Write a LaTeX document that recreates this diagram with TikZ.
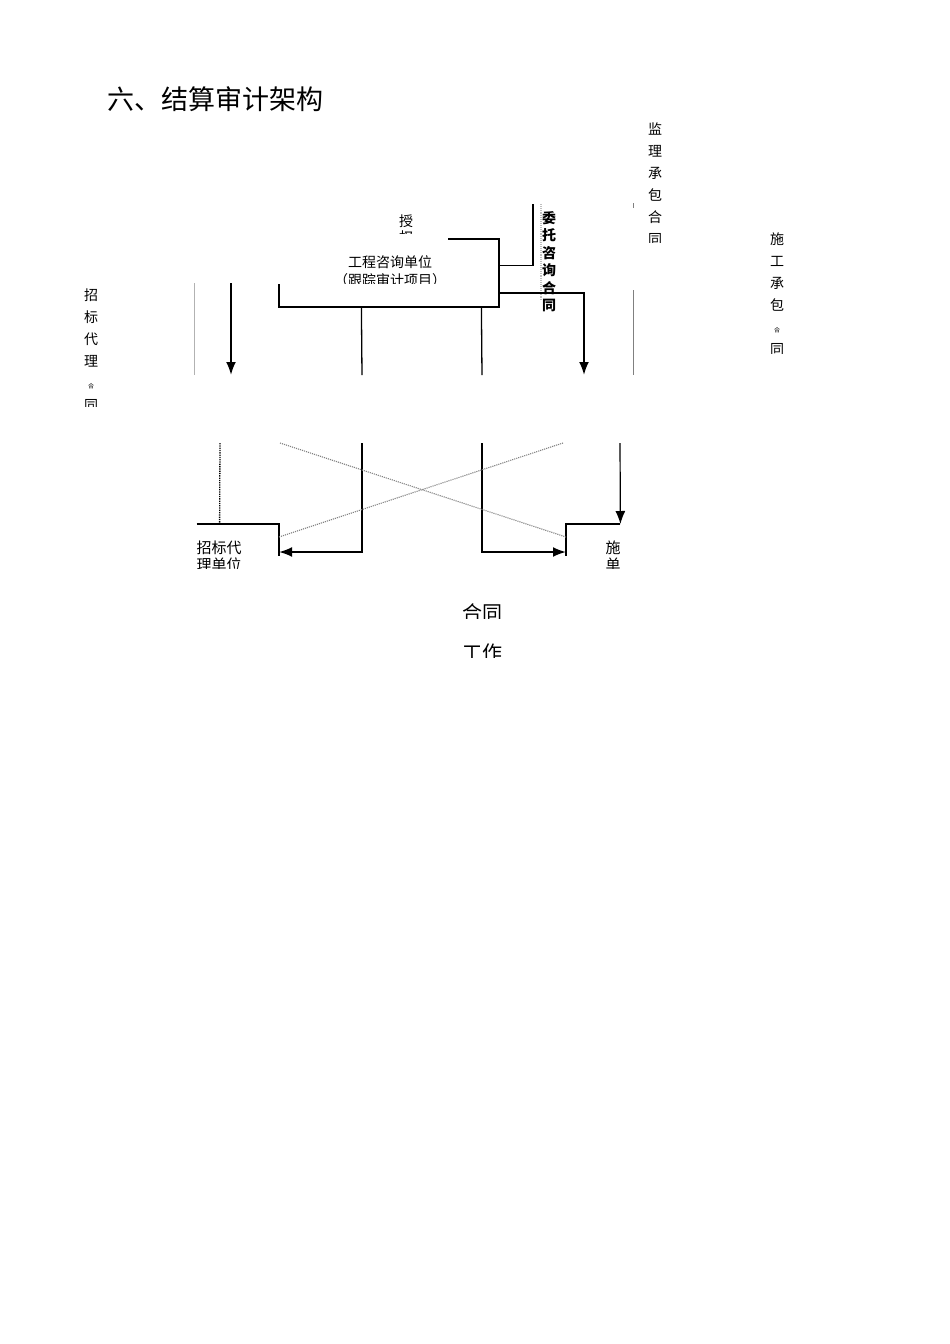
\documentclass[tikz,border=0pt]{standalone}
\usepackage{fontspec}
\setmainfont{Noto Sans CJK SC}
\usepackage{tikz}
\usetikzlibrary{arrows.meta,calc}

\tikzset{
  box/.style={draw, line width=1.2pt, inner sep=0pt},
  line/.style={line width=1.3pt},
  arrow/.style={line width=2pt, -{Latex[length=13pt,width=10pt]}},
  faint/.style={gray!60, line width=1pt},
  dotline/.style={gray, line width=1.1pt, densely dotted},
  vlabel/.style={align=center, inner sep=0pt, anchor=north, font=\fontsize{14}{22}\selectfont},
}

\begin{document}
\begin{tikzpicture}[x=1pt,y=-1pt]
\useasboundingbox (0,0) rectangle (950,1344);

\node[anchor=west, inner sep=0pt, font=\fontsize{27}{27}\selectfont] (title) at (107,99) {六、结算审计架构};

% consulting unit
\node[box, minimum width=220pt, minimum height=68pt] (zixun) at (389,273) {};
\fill[white] (276,231) rectangle (448,283.5);
\begin{scope}
\clip (276,231) rectangle (448,283.5);
\node[align=center, font=\fontsize{14}{18}\selectfont] (zixuntxt) at (390,271) {工程咨询单位\\（跟踪审计项目）};
\end{scope}
\begin{scope}
\clip (392,205) rectangle (420,233);
\node[vlabel, font=\fontsize{14}{16}\selectfont] (shouquan) at (406,215) {授\\权};
\end{scope}

% side labels
\node[vlabel] (jianli) at (655,123) {监\\理\\承\\包\\合\\同};
\fill[white] (640,243) rectangle (670,260);
\node[vlabel] (shigonghe) at (777,233) {施\\工\\承\\包\\{\fontsize{6}{22}\selectfont 合}\\同};
\fill[white] (760,354) rectangle (795,370);
\node[vlabel] (zhaobiaohe) at (91,289) {招\\标\\代\\理\\{\fontsize{6}{22}\selectfont 合}\\同};
\fill[white] (75,407) rectangle (110,425);
\node[vlabel, font=\bfseries\fontsize{14}{17.5}\selectfont] (weituo) at (549,211) {委\\托\\咨\\询\\合\\同};
\draw[dotline, gray!50] (541,204) -- (541,300);

% free ends at the cut
\coordinate (wtTop) at (533,204);
\coordinate (sgCut) at (584,375);
\coordinate (zbTop) at (231,283);
\coordinate (zbCut) at (231,375);
\coordinate (midL) at (362,375);
\coordinate (midR) at (482,375);
\coordinate (midL2) at (362,443);
\coordinate (midR2) at (482,443);
\coordinate (crossL) at (280,443);
\coordinate (crossR) at (563,443);
\coordinate (dotTop) at (220,443);
\coordinate (sgTop) at (620,443);

\draw[line] ($(zixun.north east)+(0,27)$) -| (wtTop);
\draw[arrow] ($(zixun.north east)+(0,55)$) -| (sgCut);
\draw[arrow] (zbTop) -- (zbCut);
\draw[line] ($(zixun.south west)+(83,0)$) -- (midL);
\draw[line] ($(zixun.south west)+(203,0)$) -- (midR);
\draw[faint] (194,283) -- (194,375);
\draw[faint, gray] (633,290) -- (633,375);
\draw[faint, gray] (633,203) -- (633,208);

% bottom units
\node[inner sep=0pt, minimum width=82pt, minimum height=44pt, anchor=north east] (zhaobiao) at (279,524) {};
\node[inner sep=0pt, minimum width=54pt, minimum height=44pt, anchor=north west] (shigong) at (566,524) {};
\draw[line] (zhaobiao.north west) -- (zhaobiao.north east) -- ($(zhaobiao.north east)+(0,32)$);
\draw[line] (shigong.north east) -- (shigong.north west) -- ($(shigong.north west)+(0,32)$);
\begin{scope}
\clip (zhaobiao.north west) rectangle (zhaobiao.south east);
\node[align=center, font=\fontsize{15}{17}\selectfont] (zhaobiaotxt) at (219,556) {招标代\\理单位};
\end{scope}
\begin{scope}
\clip (shigong.north west) rectangle (shigong.south east);
\node[align=center, font=\fontsize{15}{17}\selectfont] (shigongtxt) at (620.5,556) {施工\\单位};
\end{scope}

\draw[arrow] (midL2) |- ($(zhaobiao.north east)+(0,28)$);
\draw[arrow] (midR2) |- ($(shigong.north west)+(0,28)$);
\draw[arrow, line width=1.2pt] (sgTop) -- (shigong.north east);
\draw[line, densely dotted] (dotTop) -- ($(zhaobiao.north west)+(23,0)$);
\draw[dotline] ($(zhaobiao.north east)+(0,13)$) -- (crossR);
\draw[dotline] (crossL) -- ($(shigong.north west)+(0,13)$);

% bottom words
\begin{scope}
\clip (450,598) rectangle (515,618);
\node[font=\fontsize{20}{20}\selectfont] (hetong) at (482,613) {合同};
\end{scope}
\begin{scope}
\clip (450,640) rectangle (515,657);
\node[font=\fontsize{20}{20}\selectfont] (gongzuo) at (482,653) {工作};
\end{scope}
\end{tikzpicture}
\end{document}
